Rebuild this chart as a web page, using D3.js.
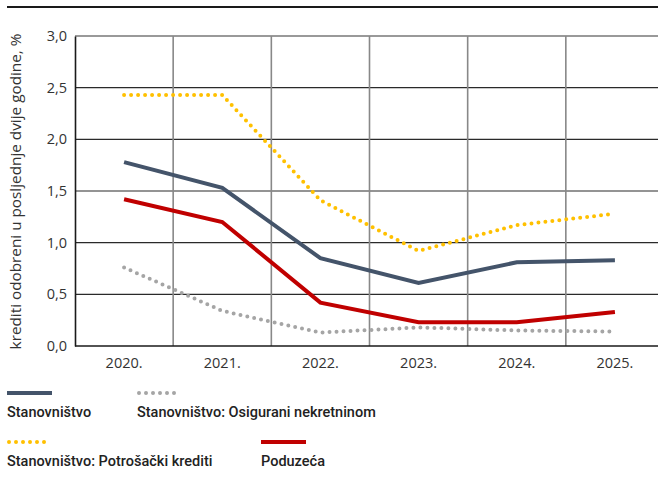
<!DOCTYPE html>
<html><head><meta charset="utf-8">
<script src="https://cdn.jsdelivr.net/npm/d3@7"></script>
<style>body{margin:0;background:#fff}svg{display:block}</style>
</head><body>
<svg id="c" width="658" height="484"></svg>
<script>
const years = ["2020.","2021.","2022.","2023.","2024.","2025."];
const yTicks = [0,0.5,1,1.5,2,2.5,3];
const stanovnistvo = [1.78,1.53,0.85,0.61,0.81,0.83];
const osigurani = [0.76,0.34,0.13,0.18,0.15,0.14];
const potrosacki = [2.43,2.43,1.41,0.92,1.17,1.28];
const poduzeca = [1.42,1.20,0.42,0.23,0.23,0.33];
const seriesNames = ["Stanovništvo","Stanovništvo: Osigurani nekretninom","Stanovništvo: Potrošački krediti","Poduzeća"];
const yTitle = "krediti odobreni u posljednje dvije godine, %";

(function(){
const series = [
  {name:seriesNames[0], values:stanovnistvo, color:"#44546a", dotted:false},
  {name:seriesNames[1], values:osigurani, color:"#a5a5a5", dotted:true},
  {name:seriesNames[2], values:potrosacki, color:"#ffc000", dotted:true},
  {name:seriesNames[3], values:poduzeca, color:"#c00000", dotted:false}
];
const drawOrder = [1,2,0,3];

const svg = d3.select("#c");
const pL=75, pR=664, pT=36, pB=346;
const x = d3.scaleBand().domain(years).range([pL,pR]);
const y = d3.scaleLinear().domain([0,3]).range([pB,pT]);
const font = "'Open Sans', 'DejaVu Sans', sans-serif";

// top rule
svg.append("line").attr("x1",7).attr("x2",658).attr("y1",7).attr("y2",7)
  .attr("stroke","#1a1a1a").attr("stroke-width",2);

// horizontal grid
svg.append("g").selectAll("line").data(yTicks.filter(d=>d>0)).join("line")
  .attr("x1",pL).attr("x2",658).attr("y1",d=>y(d)).attr("y2",d=>y(d))
  .attr("stroke",d=>d===3?"#777":"#2a2a2a").attr("stroke-width",d=>d===3?1.6:1.1);
// vertical grid
svg.append("g").selectAll("line").data(years.slice(1)).join("line")
  .attr("x1",d=>x(d)).attr("x2",d=>x(d)).attr("y1",pT).attr("y2",pB)
  .attr("stroke","#888").attr("stroke-width",1.6);

// axes
const yAxis = svg.append("g").attr("transform",`translate(${pL},0)`)
  .call(d3.axisLeft(y).tickValues(yTicks).tickSize(0).tickPadding(8)
    .tickFormat(d=>d3.format(".1f")(d).replace(".",",")));
yAxis.select(".domain").attr("stroke","#1a1a1a").attr("stroke-width",1.6);
yAxis.selectAll("text").attr("font-family",font).attr("font-size",14.5).attr("fill","#333");

const xAxis = svg.append("g").attr("transform",`translate(0,${pB})`)
  .call(d3.axisBottom(x).tickSize(0).tickPadding(12));
xAxis.select(".domain").attr("stroke","#1a1a1a").attr("stroke-width",1.6).attr("d",`M${pL},0H658`);
xAxis.selectAll("text").attr("font-family",font).attr("font-size",14.5).attr("fill","#333");

svg.append("text").attr("transform",`translate(21,191.5) rotate(-90)`)
  .attr("text-anchor","middle").attr("font-family",font).attr("font-size",15.3).attr("fill","#333")
  .text(yTitle);

// lines
const line = d3.line().x((d,i)=>x(years[i])+x.bandwidth()/2).y(d=>y(d));
function styleLine(sel, s){
  sel.attr("fill","none").attr("stroke",s.color).attr("stroke-width",4);
  if(s.dotted) sel.attr("stroke-dasharray","0 7").attr("stroke-linecap","round");
  else sel.attr("stroke-linejoin","miter");
}
drawOrder.forEach(i=>{
  const s=series[i];
  svg.append("path").attr("d",line(s.values)).call(styleLine,s);
});

// legend
const legPos = [{x:7,y:393},{x:137,y:393},{x:7,y:442},{x:261,y:442}];
series.forEach((s,i)=>{
  const p=legPos[i];
  const g=svg.append("g").attr("transform",`translate(${p.x},${p.y})`);
  if(s.dotted){
    g.append("line").attr("x1",2).attr("x2",44).attr("y1",0).attr("y2",0).call(styleLine,s);
  } else {
    g.append("line").attr("x1",0).attr("x2",45).attr("y1",0).attr("y2",0).call(styleLine,s);
  }
  g.append("text").attr("x",0).attr("y",24).attr("font-family","Roboto, sans-serif")
    .attr("font-weight",500).attr("font-size",14.5).attr("fill","#222").text(s.name);
});
})();
</script>
</body></html>
